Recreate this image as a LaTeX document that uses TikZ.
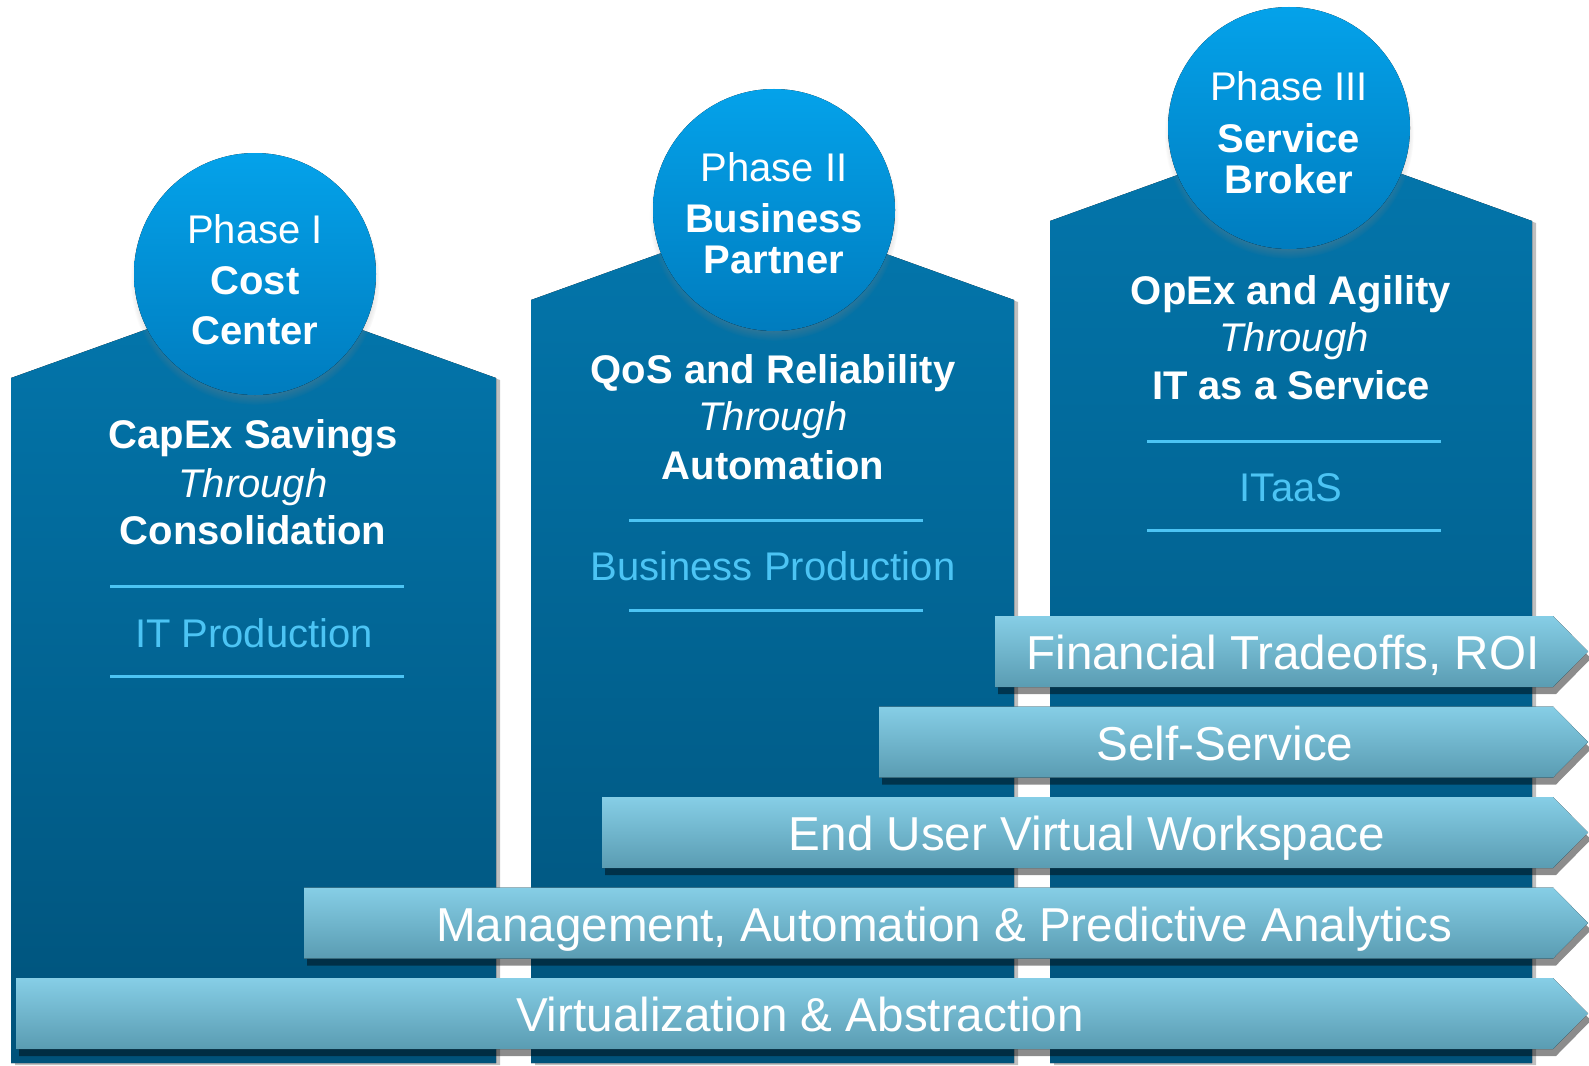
\documentclass[tikz,border=0pt]{standalone}
\usepackage{fontspec}
\setmainfont{Liberation Sans}
\usetikzlibrary{shadows,fadings}
\definecolor{coltop}{RGB}{3,118,172}
\definecolor{colbot}{RGB}{0,82,122}
\definecolor{circtop}{RGB}{4,162,234}
\definecolor{circbot}{RGB}{0,124,190}
\definecolor{bantop}{RGB}{134,206,230}
\definecolor{banbot}{RGB}{90,156,178}
\definecolor{ltblue}{RGB}{76,196,244}
\tikzset{
  column/.style={top color=coltop, bottom color=colbot,
    drop shadow={shadow xshift=2pt, shadow yshift=-1pt, opacity=0.25, fill=black}},
  phasecirc/.style={top color=circtop, bottom color=circbot,
    circular drop shadow={shadow scale=1.03, shadow xshift=0pt, shadow yshift=-3pt, opacity=0.6}},
  banner/.style={top color=bantop, bottom color=banbot,
    drop shadow={shadow xshift=1.5pt, shadow yshift=-3.5pt, opacity=0.45, fill=black}},
  sepline/.style={draw=ltblue, line width=1.5pt},
  ctxt/.style={text=white, anchor=base, inner sep=0pt, font=\fontsize{20}{24}\selectfont},
  cbold/.style={ctxt, font=\fontsize{20}{24}\selectfont\bfseries},
  cital/.style={ctxt, font=\fontsize{20}{24}\selectfont\itshape},
  ctag/.style={ctxt, text=ltblue},
  btxt/.style={text=white, anchor=base, inner sep=0pt, font=\fontsize{23.8}{28}\selectfont},
}
\begin{document}
\begin{tikzpicture}[x=0.5pt,y=-0.5pt]
\useasboundingbox (0,0) rectangle (1589,1065);
% columns
\fill[column] (11,1063) -- (11,378) -- (253.5,291) -- (496,378) -- (496,1063) -- cycle;
\fill[column] (531,1063) -- (531,300) -- (772.5,213) -- (1014,300) -- (1014,1063) -- cycle;
\fill[column] (1050,1063) -- (1050,221) -- (1291,134) -- (1532,221) -- (1532,1063) -- cycle;
% circles
\fill[phasecirc] (255,274) circle [radius=121];
\fill[phasecirc] (774,210) circle [radius=121];
\fill[phasecirc] (1289,128) circle [radius=121];
% circle texts
\node[ctxt] (p1a) at (255,243) {Phase I};
\node[cbold] (p1b) at (255,294) {Cost};
\node[cbold] (p1c) at (255,344) {Center};
\node[ctxt] (p2a) at (774,181) {Phase II};
\node[cbold] (p2b) at (774,232) {Business};
\node[cbold] (p2c) at (774,273) {Partner};
\node[ctxt] (p3a) at (1289,101) {Phase III};
\node[cbold] (p3b) at (1289,152) {Service};
\node[cbold] (p3c) at (1289,193) {Broker};
% column 1 texts
\node[cbold] (c1a) at (253,448) {CapEx Savings};
\node[cital] (c1b) at (253,497) {Through};
\node[cbold] (c1c) at (253,544) {Consolidation};
\draw[sepline] (110,586) -- (404,586);
\node[ctag] (c1d) at (254,647) {IT Production};
\draw[sepline] (110,676) -- (404,676);
% column 2 texts
\node[cbold] (c2a) at (773,383) {QoS and Reliability};
\node[cital] (c2b) at (773,430) {Through};
\node[cbold] (c2c) at (773,479) {Automation};
\draw[sepline] (629,520) -- (923,520);
\node[ctag] (c2d) at (773,580) {Business Production};
\draw[sepline] (629,610) -- (923,610);
% column 3 texts
\node[cbold] (c3a) at (1291,304) {OpEx and Agility};
\node[cital] (c3b) at (1294,351) {Through};
\node[cbold] (c3c) at (1291,399) {IT as a Service};
\draw[sepline] (1147,441) -- (1441,441);
\node[ctag] (c3d) at (1291,501) {ITaaS};
\draw[sepline] (1147,530) -- (1441,530);
% banners
\fill[banner] (995,616) -- (1553,616) -- (1588,651.5) -- (1553,687) -- (995,687) -- cycle;
\fill[banner] (879,706.5) -- (1553,706.5) -- (1588,742) -- (1553,777.5) -- (879,777.5) -- cycle;
\fill[banner] (602,797) -- (1553,797) -- (1588,832.5) -- (1553,868) -- (602,868) -- cycle;
\fill[banner] (304,887.5) -- (1553,887.5) -- (1588,923) -- (1553,958.5) -- (304,958.5) -- cycle;
\fill[banner] (16,978) -- (1553,978) -- (1588,1013.5) -- (1553,1049) -- (16,1049) -- cycle;
\node[btxt] (b1) at (1283,669.5) {Financial Tradeoffs, ROI};
\node[btxt] (b2) at (1225,760) {Self-Service};
\node[btxt] (b3) at (1087,850.5) {End User Virtual Workspace};
\node[btxt] (b4) at (944,941) {Management, Automation \& Predictive Analytics};
\node[btxt] (b5) at (800,1031.5) {Virtualization \& Abstraction};
\end{tikzpicture}
\end{document}
